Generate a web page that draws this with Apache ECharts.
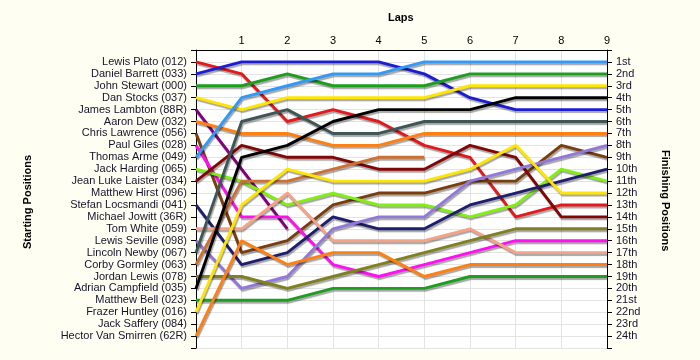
<!DOCTYPE html>
<html>
<head>
<meta charset="utf-8">
<script src="https://cdn.jsdelivr.net/npm/echarts@6/dist/echarts.min.js"></script>
<style>
html,body{margin:0;padding:0;background:#FFFEF3;}
#c{width:700px;height:360px;}
</style>
</head>
<body>
<div id="c"></div>
<script>
// Starting grid order (position 1..24)
const drivers = [
  'Lewis Plato (012)', 'Daniel Barrett (033)', 'John Stewart (000)', 'Dan Stocks (037)',
  'James Lambton (88R)', 'Aaron Dew (032)', 'Chris Lawrence (056)', 'Paul Giles (028)',
  'Thomas Arme (049)', 'Jack Harding (065)', 'Jean Luke Laister (034)', 'Matthew Hirst (096)',
  'Stefan Locsmandi (041)', 'Michael Jowitt (36R)', 'Tom White (059)', 'Lewis Seville (098)',
  'Lincoln Newby (067)', 'Corby Gormley (063)', 'Jordan Lewis (078)', 'Adrian Campfield (035)',
  'Matthew Bell (023)', 'Frazer Huntley (016)', 'Jack Saffery (084)', 'Hector Van Smirren (62R)'
];
const finishLabels = [
  '1st','2nd','3rd','4th','5th','6th','7th','8th','9th','10th','11th','12th',
  '13th','14th','15th','16th','17th','18th','19th','20th','21st','22nd','23rd','24th'
];
const laps = [0,1,2,3,4,5,6,7,8,9];

// Position after each lap (index 0 = start)
const lewisPlato       = [1,2,6,5,6,8,9,14,13,13];
const danielBarrett    = [2,1,1,1,1,2,4,5,5,5];
const johnStewart      = [3,3,2,3,3,3,2,2,2,2];
const danStocks        = [4,5,4,4,4,4,3,3,3,3];
const jamesLambton     = [5,10,15];
const aaronDew         = [6,7,7,8,8,7,7,7,7,7];
const chrisLawrence    = [7,17,16,13,12,12,11,11,8,9];
const paulGiles        = [8,14,14,18,19,18,17,16,16,16];
const thomasArme       = [9,4,3,2,2,1,1,1,1,1];
const jackHarding      = [10,11,13,12,13,13,14,13,10,11];
const jeanLukeLaister  = [11,8,9,9,10,10,8,9,14,14];
const stefanLocsmandi  = [13,18,17,14,15,15,13,12,11,10];
const tomWhite         = [15,15,12,16,16,16,15,17,17,17];
const lewisSeville     = [16,20,19,15,14,14,11,10,9,8];
const lincolnNewby     = [17,6,5,7,7,6,6,6,6,6];
const corbyGormley     = [18,11,11,10,9,9];
const jordanLewis      = [19,19,20,19,18,17,16,15,15,15];
const adrianCampfield  = [20,9,8,6,5,5,5,4,4,4];
const matthewBell      = [21,21,21,20,20,20,19,19,19,19];
const frazerHuntley    = [22,13,10,11,11,11,10,8,12,12];
const hectorVanSmirren = [24,16,18,17,17,19,18,18,18,18];

const seriesDefs = [
  ['Lewis Plato (012)', lewisPlato, '#E3191C'],
  ['Daniel Barrett (033)', danielBarrett, '#1C1CD6'],
  ['John Stewart (000)', johnStewart, '#1E9E1E'],
  ['Dan Stocks (037)', danStocks, '#FFE600'],
  ['James Lambton (88R)', jamesLambton, '#800080'],
  ['Aaron Dew (032)', aaronDew, '#FF8010'],
  ['Chris Lawrence (056)', chrisLawrence, '#7A3E0C'],
  ['Paul Giles (028)', paulGiles, '#FF10F0'],
  ['Thomas Arme (049)', thomasArme, '#3399F5'],
  ['Jack Harding (065)', jackHarding, '#80F010'],
  ['Jean Luke Laister (034)', jeanLukeLaister, '#820606'],
  ['Stefan Locsmandi (041)', stefanLocsmandi, '#1E1E6E'],
  ['Tom White (059)', tomWhite, '#F5A385'],
  ['Lewis Seville (098)', lewisSeville, '#9378DC'],
  ['Lincoln Newby (067)', lincolnNewby, '#3E5656'],
  ['Corby Gormley (063)', corbyGormley, '#CC7033'],
  ['Jordan Lewis (078)', jordanLewis, '#808020'],
  ['Adrian Campfield (035)', adrianCampfield, '#000000'],
  ['Matthew Bell (023)', matthewBell, '#1E9E1E'],
  ['Frazer Huntley (016)', frazerHuntley, '#FFE600'],
  ['Hector Van Smirren (62R)', hectorVanSmirren, '#FF8010']
];

const FONT = 'Liberation Sans, Arial, sans-serif';
const chart = echarts.init(document.getElementById('c'), null, {renderer:'canvas'});

const series = seriesDefs.map(([name, arr, color]) => ({
  name: name,
  type: 'line',
  xAxisIndex: 0,
  yAxisIndex: 0,
  data: arr.map((p, i) => [laps[i], p]),
  symbol: 'none',
  animation: false,
  lineStyle: {
    color: color, width: 2.9,
    shadowColor: 'rgba(0,0,0,0.35)', shadowBlur: 1, shadowOffsetX: 1, shadowOffsetY: 2
  },
  itemStyle: {color: color}
}));

chart.setOption({
  animation: false,
  backgroundColor: '#FFFEF3',
  grid: {left: 196, right: 93, top: 50, bottom: 12, show: true, backgroundColor: '#FFFFFF', borderWidth: 0},
  xAxis: {
    type: 'value', position: 'top', min: 0, max: 9, interval: 1,
    axisLine: {show: true, lineStyle: {color: '#000', width: 1}},
    axisTick: {show: false},
    axisLabel: {margin: 4, color: '#000', fontFamily: FONT, fontSize: 11,
      formatter: v => v === 0 ? '' : String(v)},
    splitLine: {show: true, lineStyle: {color: '#E4E4E4', width: 1}}
  },
  yAxis: [
    {
      type: 'value', position: 'left', inverse: true, min: 0, max: 25, interval: 1,
      axisLine: {show: true, onZero: false, lineStyle: {color: '#000', width: 1}},
      axisTick: {show: true, length: 5, lineStyle: {color: '#000'}},
      axisLabel: {margin: 9, color: '#14142a', fontFamily: FONT, fontSize: 11,
        formatter: v => (v >= 1 && v <= 24) ? drivers[v - 1] : ''},
      splitLine: {show: true, lineStyle: {color: '#E4E4E4', width: 1}}
    },
    {
      type: 'value', position: 'right', inverse: true, min: 0, max: 25, interval: 1,
      axisLine: {show: true, onZero: false, lineStyle: {color: '#000', width: 1}},
      axisTick: {show: true, length: 5, lineStyle: {color: '#000'}},
      axisLabel: {margin: 9, color: '#14142a', fontFamily: FONT, fontSize: 11,
        formatter: v => (v >= 1 && v <= 24) ? finishLabels[v - 1] : ''},
      splitLine: {show: false}
    }
  ],
  graphic: [
    {type: 'text', left: 388, top: 12, style: {text: 'Laps', font: 'bold 11px ' + FONT, fill: '#000'}},
    {type: 'text', x: 22, y: 249, rotation: Math.PI / 2,
      style: {text: 'Starting Positions', font: 'bold 11px ' + FONT, fill: '#000'}},
    {type: 'text', x: 671, y: 150, rotation: -Math.PI / 2,
      style: {text: 'Finishing Positions', font: 'bold 11px ' + FONT, fill: '#000'}}
  ],
  series: series
});
</script>
</body>
</html>
